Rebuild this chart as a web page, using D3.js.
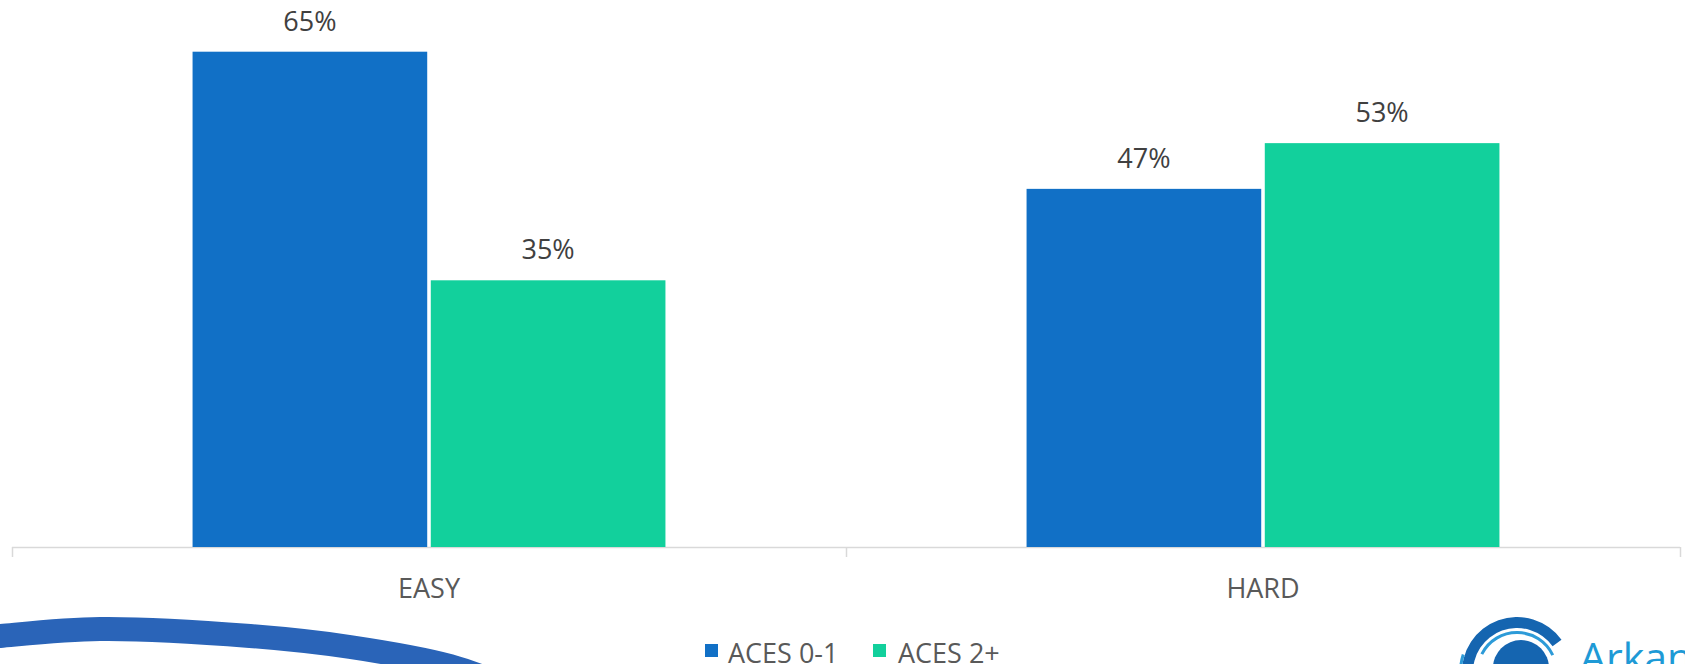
<!DOCTYPE html>
<html>
<head>
<meta charset="utf-8">
<script src="https://cdn.jsdelivr.net/npm/d3@7/dist/d3.min.js"></script>
<style>
  html, body { margin: 0; padding: 0; background: #ffffff; }
  svg { display: block; }
  text { font-family: "Open Sans", "Noto Sans", sans-serif; }
</style>
</head>
<body>
<svg id="chart" width="1685" height="664"></svg>
<script>
// Chart data
const categories = ["EASY", "HARD"];
const seriesNames = ["ACES 0-1", "ACES 2+"];
const aces01 = [65, 47];
const aces2plus = [35, 53];
const seriesValues = [aces01, aces2plus];
const seriesColors = ["#1170c6", "#12d09c"];

const W = 1685, H = 664;
const svg = d3.select("#chart");
svg.append("rect").attr("width", W).attr("height", H).attr("fill", "#ffffff");

// Decorative slide swoosh, bottom left
const swoosh = [[-20, 638], [0, 636], [100, 629], [250, 636], [350, 647], [450, 666], [500, 684]];
svg.append("path")
  .attr("d", d3.line().curve(d3.curveCatmullRom)(swoosh))
  .attr("fill", "none")
  .attr("stroke", "#2a64b8")
  .attr("stroke-width", 24);

// Scales
const plotLeft = 12, plotRight = 1680, baseY = 547;
const x = d3.scaleBand().domain(categories).range([plotLeft, plotRight]).paddingInner(0).paddingOuter(0);
const groupW = x.bandwidth() * 0.567;
const x1 = d3.scaleBand().domain(seriesNames).range([0, groupW]).paddingInner(0.015);
const y = d3.scaleLinear().domain([0, 65]).range([baseY, 51.7]);

// Axis line with tick marks at category boundaries
const axisG = svg.append("g");
axisG.append("line")
  .attr("x1", plotLeft).attr("x2", plotRight)
  .attr("y1", baseY + 0.5).attr("y2", baseY + 0.5)
  .attr("stroke", "#d9d9d9").attr("stroke-width", 1.5);
const tickXs = categories.map(c => x(c)).concat([x(categories[categories.length - 1]) + x.bandwidth()]);
axisG.selectAll("line.tick").data(tickXs).join("line")
  .attr("class", "tick")
  .attr("x1", d => Math.round(d) + 0.5).attr("x2", d => Math.round(d) + 0.5)
  .attr("y1", baseY).attr("y2", baseY + 10)
  .attr("stroke", "#d9d9d9").attr("stroke-width", 1.5);

// Category labels
axisG.selectAll("text.cat").data(categories).join("text")
  .attr("class", "cat")
  .attr("x", d => x(d) + x.bandwidth() / 2)
  .attr("y", 598)
  .attr("text-anchor", "middle")
  .attr("font-size", 27)
  .attr("fill", "#595959")
  .text(d => d);

// Bars and value labels
const groups = svg.append("g").selectAll("g.grp").data(categories).join("g")
  .attr("class", "grp")
  .attr("transform", d => `translate(${x(d) + (x.bandwidth() - groupW) / 2},0)`);

groups.each(function(cat, ci) {
  const g = d3.select(this);
  const rows = seriesNames.map((s, si) => ({ s, si, v: seriesValues[si][ci] }));
  g.selectAll("rect").data(rows).join("rect")
    .attr("x", d => x1(d.s))
    .attr("width", x1.bandwidth())
    .attr("y", d => y(d.v))
    .attr("height", d => baseY - y(d.v))
    .attr("fill", d => seriesColors[d.si]);
  g.selectAll("text").data(rows).join("text")
    .attr("x", d => x1(d.s) + x1.bandwidth() / 2)
    .attr("y", d => y(d.v) - 21)
    .attr("text-anchor", "middle")
    .attr("font-size", 27)
    .attr("fill", "#404040")
    .text(d => d.v + "%");
});

// Legend
const legendX = [705, 873];
const legend = svg.append("g").selectAll("g").data(seriesNames).join("g")
  .attr("transform", (d, i) => `translate(${legendX[i]},0)`);
legend.append("rect")
  .attr("x", 0).attr("y", 644).attr("width", 13).attr("height", 13)
  .attr("fill", (d, i) => seriesColors[i]);
legend.append("text")
  .attr("x", (d, i) => i === 0 ? 23 : 25)
  .attr("y", 663)
  .attr("font-size", 27)
  .attr("fill", "#595959")
  .text(d => d);

// Brand mark, bottom right
const logo = svg.append("g").attr("transform", "translate(1517,672)");
const arc = d3.arc();
logo.append("path")
  .attr("d", arc({ innerRadius: 44, outerRadius: 55, startAngle: -Math.PI * 0.52, endAngle: Math.PI * 0.3 }))
  .attr("fill", "#1565b0");
logo.append("path")
  .attr("d", arc({ innerRadius: 38, outerRadius: 41, startAngle: -Math.PI * 0.35, endAngle: Math.PI * 0.36 }))
  .attr("fill", "#2d9bd8");
logo.append("path")
  .attr("d", arc({ innerRadius: 55, outerRadius: 58, startAngle: -Math.PI * 0.56, endAngle: -Math.PI * 0.4 }))
  .attr("fill", "#2d9bd8");
logo.append("circle")
  .attr("cx", 4).attr("cy", -4).attr("r", 28)
  .attr("fill", "#1565b0");
svg.append("text")
  .attr("x", 1580).attr("y", 672)
  .attr("font-size", 41)
  .attr("fill", "#1e9ad6")
  .text("Arkan");
</script>
</body>
</html>
